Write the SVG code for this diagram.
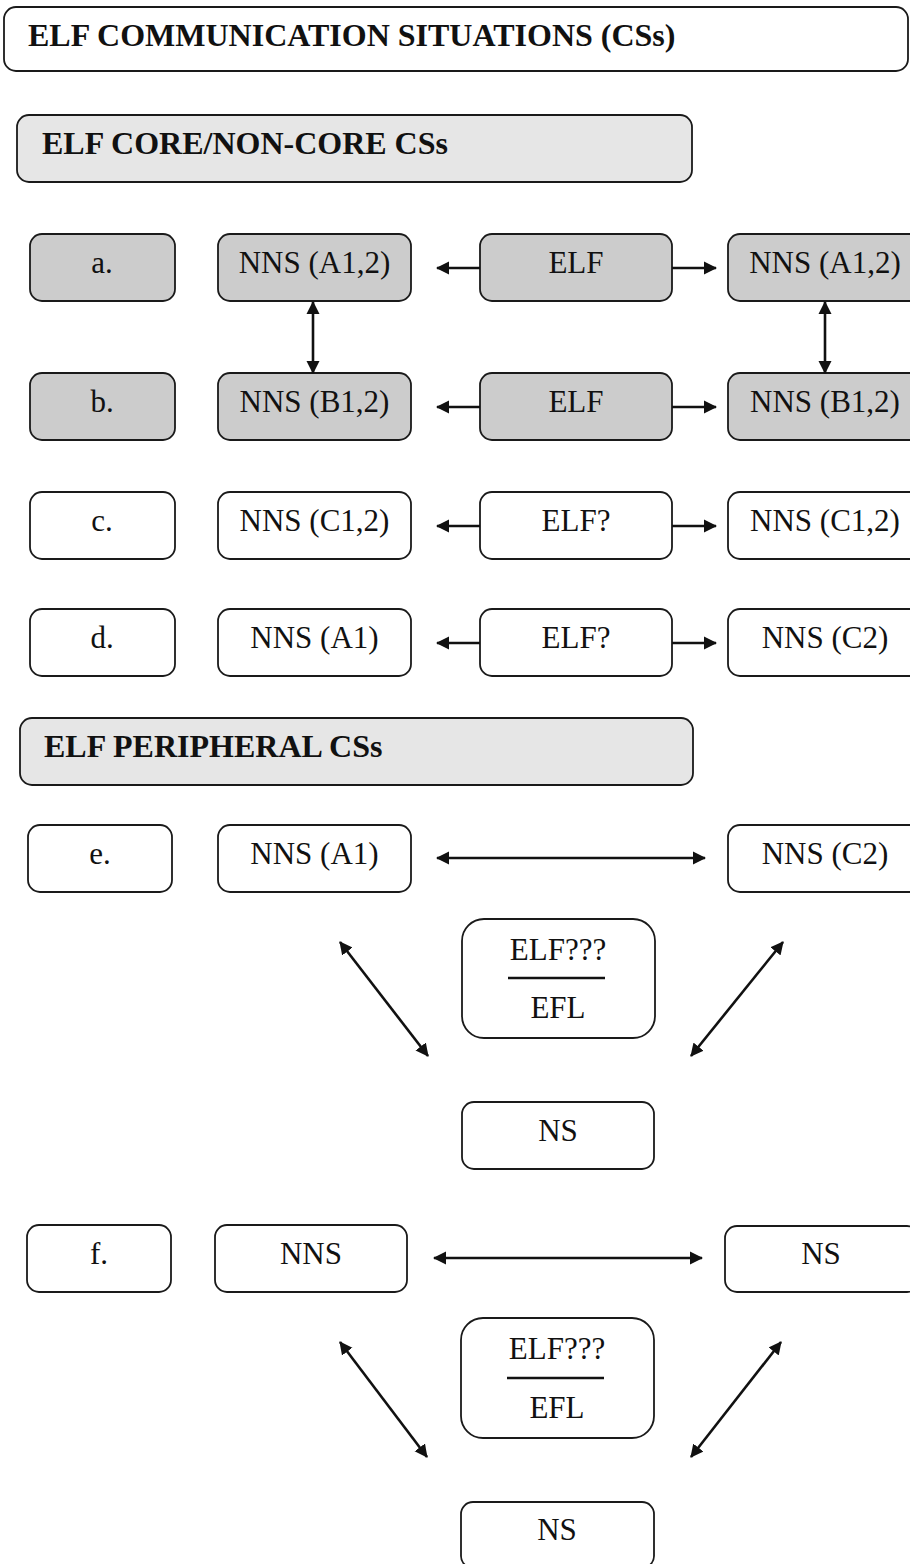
<svg xmlns="http://www.w3.org/2000/svg" width="910" height="1564" viewBox="0 0 910 1564">
<style>
.box{fill:#fff;stroke:#1a1a1a;stroke-width:1.8}
.g{fill:#cccccc}
.h{fill:#e6e6e6}
.t{font-family:"Liberation Serif","Times New Roman",serif;font-size:31px;fill:#111;text-anchor:middle}
.ht{font-family:"Liberation Serif","Times New Roman",serif;font-size:32px;font-weight:bold;fill:#111}
.ar{stroke:#111;stroke-width:2.6;fill:none}
.one{marker-end:url(#ah)}
.two{marker-start:url(#ah);marker-end:url(#ah)}
</style>
<defs>
<marker id="ah" markerUnits="userSpaceOnUse" markerWidth="14" markerHeight="14" refX="12" refY="6.5" orient="auto-start-reverse" viewBox="0 0 14 13">
<path d="M0,0 L13,6.5 L0,13 z" fill="#111"/>
</marker>
</defs>
<rect width="910" height="1564" fill="#fff"/>

<g id="title"><rect class="box" x="4" y="7" width="904" height="64" rx="12"/><text class="ht" x="28" y="46">ELF COMMUNICATION SITUATIONS (CSs)</text></g>
<g id="core-heading"><rect class="box h" x="17" y="115" width="675" height="67" rx="12"/><text class="ht" x="42" y="154">ELF CORE/NON-CORE CSs</text></g>

<g id="a-label"><rect class="box g" x="30" y="234" width="145" height="67" rx="12"/><text class="t" x="102" y="273">a.</text></g>
<g id="a-nns-left"><rect class="box g" x="218" y="234" width="193" height="67" rx="12"/><text class="t" x="314.5" y="273">NNS (A1,2)</text></g>
<g id="a-elf"><rect class="box g" x="480" y="234" width="192" height="67" rx="12"/><text class="t" x="576" y="273">ELF</text></g>
<g id="a-nns-right"><rect class="box g" x="728" y="234" width="194" height="67" rx="12"/><text class="t" x="825" y="273">NNS (A1,2)</text></g>

<g id="b-label"><rect class="box g" x="30" y="373" width="145" height="67" rx="12"/><text class="t" x="102" y="412">b.</text></g>
<g id="b-nns-left"><rect class="box g" x="218" y="373" width="193" height="67" rx="12"/><text class="t" x="314.5" y="412">NNS (B1,2)</text></g>
<g id="b-elf"><rect class="box g" x="480" y="373" width="192" height="67" rx="12"/><text class="t" x="576" y="412">ELF</text></g>
<g id="b-nns-right"><rect class="box g" x="728" y="373" width="194" height="67" rx="12"/><text class="t" x="825" y="412">NNS (B1,2)</text></g>

<g id="c-label"><rect class="box" x="30" y="492" width="145" height="67" rx="12"/><text class="t" x="102" y="531">c.</text></g>
<g id="c-nns-left"><rect class="box" x="218" y="492" width="193" height="67" rx="12"/><text class="t" x="314.5" y="531">NNS (C1,2)</text></g>
<g id="c-elf"><rect class="box" x="480" y="492" width="192" height="67" rx="12"/><text class="t" x="576" y="531">ELF?</text></g>
<g id="c-nns-right"><rect class="box" x="728" y="492" width="194" height="67" rx="12"/><text class="t" x="825" y="531">NNS (C1,2)</text></g>

<g id="d-label"><rect class="box" x="30" y="609" width="145" height="67" rx="12"/><text class="t" x="102" y="648">d.</text></g>
<g id="d-nns-left"><rect class="box" x="218" y="609" width="193" height="67" rx="12"/><text class="t" x="314.5" y="648">NNS (A1)</text></g>
<g id="d-elf"><rect class="box" x="480" y="609" width="192" height="67" rx="12"/><text class="t" x="576" y="648">ELF?</text></g>
<g id="d-nns-right"><rect class="box" x="728" y="609" width="194" height="67" rx="12"/><text class="t" x="825" y="648">NNS (C2)</text></g>

<g id="peripheral-heading"><rect class="box h" x="20" y="718" width="673" height="67" rx="12"/><text class="ht" x="44" y="757">ELF PERIPHERAL CSs</text></g>

<g id="e-label"><rect class="box" x="28" y="825" width="144" height="67" rx="12"/><text class="t" x="100" y="864">e.</text></g>
<g id="e-nns"><rect class="box" x="218" y="825" width="193" height="67" rx="12"/><text class="t" x="314.5" y="864">NNS (A1)</text></g>
<g id="e-nns-right"><rect class="box" x="728" y="825" width="194" height="67" rx="12"/><text class="t" x="825" y="864">NNS (C2)</text></g>
<g id="e-elf-efl"><rect class="box" x="462" y="919" width="193" height="119" rx="22"/><text class="t" x="558" y="960">ELF???</text><line x1="508" y1="978" x2="605" y2="978" stroke="#111" stroke-width="2.6"/><text class="t" x="558" y="1018">EFL</text></g>
<g id="e-ns"><rect class="box" x="462" y="1102" width="192" height="67" rx="12"/><text class="t" x="558" y="1141">NS</text></g>

<g id="f-label"><rect class="box" x="27" y="1225" width="144" height="67" rx="12"/><text class="t" x="99" y="1264">f.</text></g>
<g id="f-nns"><rect class="box" x="215" y="1225" width="192" height="67" rx="12"/><text class="t" x="311" y="1264">NNS</text></g>
<g id="f-ns-right"><rect class="box" x="725" y="1226" width="194" height="66" rx="12"/><text class="t" x="821" y="1264">NS</text></g>
<g id="f-elf-efl"><rect class="box" x="461" y="1318" width="193" height="120" rx="22"/><text class="t" x="557" y="1359">ELF???</text><line x1="507" y1="1378" x2="604" y2="1378" stroke="#111" stroke-width="2.6"/><text class="t" x="557" y="1418">EFL</text></g>
<g id="f-ns"><rect class="box" x="461" y="1502" width="193" height="66" rx="12"/><text class="t" x="557" y="1540">NS</text></g>

<g id="connectors">
<line class="ar one" x1="480" y1="268" x2="437" y2="268"/>
<line class="ar one" x1="672" y1="268" x2="716" y2="268"/>
<line class="ar one" x1="480" y1="407" x2="437" y2="407"/>
<line class="ar one" x1="672" y1="407" x2="716" y2="407"/>
<line class="ar one" x1="480" y1="526" x2="437" y2="526"/>
<line class="ar one" x1="672" y1="526" x2="716" y2="526"/>
<line class="ar one" x1="480" y1="643" x2="437" y2="643"/>
<line class="ar one" x1="672" y1="643" x2="716" y2="643"/>
<line class="ar two" x1="313" y1="302" x2="313" y2="373"/>
<line class="ar two" x1="825" y1="302" x2="825" y2="373"/>
<line class="ar two" x1="437" y1="858" x2="705" y2="858"/>
<line class="ar two" x1="340" y1="942" x2="428" y2="1056"/>
<line class="ar two" x1="783" y1="942" x2="691" y2="1056"/>
<line class="ar two" x1="434" y1="1258" x2="702" y2="1258"/>
<line class="ar two" x1="340" y1="1342" x2="427" y2="1457"/>
<line class="ar two" x1="781" y1="1342" x2="691" y2="1457"/>
</g>
</svg>
